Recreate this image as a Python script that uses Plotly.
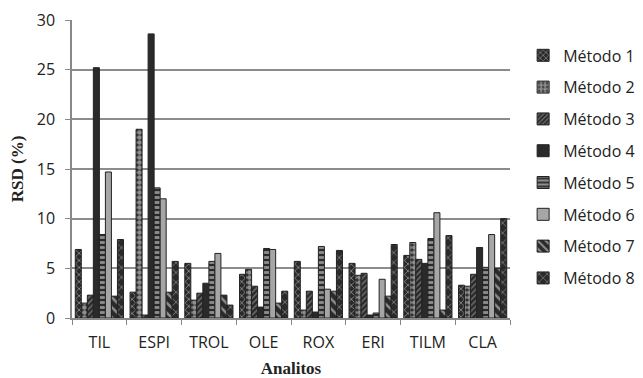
import plotly.graph_objects as go

categories = ["TIL", "ESPI", "TROL", "OLE", "ROX", "ERI", "TILM", "CLA"]
metodo_1 = [6.9, 2.6, 5.5, 4.4, 5.7, 5.5, 6.3, 3.3]
metodo_2 = [1.5, 19.0, 1.8, 4.9, 0.8, 4.3, 7.6, 3.2]
metodo_3 = [2.3, 0.3, 2.5, 3.2, 2.7, 4.5, 5.9, 4.4]
metodo_4 = [25.2, 28.6, 3.5, 1.1, 0.6, 0.3, 5.5, 7.1]
metodo_5 = [8.4, 13.1, 5.7, 7.0, 7.2, 0.5, 8.0, 5.1]
metodo_6 = [14.7, 12.0, 6.5, 6.9, 2.9, 3.9, 10.6, 8.4]
metodo_7 = [2.2, 2.6, 2.3, 1.5, 2.7, 2.2, 0.8, 5.0]
metodo_8 = [7.9, 5.7, 1.3, 2.7, 6.8, 7.4, 8.3, 10.0]
series_names = ["Método 1", "Método 2", "Método 3", "Método 4",
                "Método 5", "Método 6", "Método 7", "Método 8"]
series_values = [metodo_1, metodo_2, metodo_3, metodo_4,
                 metodo_5, metodo_6, metodo_7, metodo_8]
y_ticks = [0, 5, 10, 15, 20, 25, 30]

dark = "#2a2a2a"
light = "#f2f2f2"
styles = [
    dict(color=dark, pattern=dict(shape="x", fgcolor=light, bgcolor=dark, size=5, solidity=0.3)),
    dict(color=dark, pattern=dict(shape=".", fgcolor=light, bgcolor=dark, size=5, solidity=0.7)),
    dict(color=dark, pattern=dict(shape="/", fgcolor="#bdbdbd", bgcolor=dark, size=4, solidity=0.35)),
    dict(color=dark, pattern=dict(shape="")),
    dict(color=dark, pattern=dict(shape="-", fgcolor=light, bgcolor=dark, size=5, solidity=0.55)),
    dict(color="#a6a6a6", pattern=dict(shape="")),
    dict(color=dark, pattern=dict(shape="\\", fgcolor=light, bgcolor=dark, size=7, solidity=0.35)),
    dict(color=dark, pattern=dict(shape="x", fgcolor=light, bgcolor=dark, size=7, solidity=0.2)),
]

fig = go.Figure()
for i, (name, vals) in enumerate(zip(series_names, series_values)):
    st = styles[i]
    fig.add_trace(go.Bar(
        x=categories, y=vals, name=name, legendgroup=name,
        marker=dict(color=st["color"], pattern=st["pattern"],
                    line=dict(color="#222222", width=1)),
    ))

fig.update_layout(
    width=643, height=378,
    margin=dict(l=72, r=133, t=20, b=60, autoexpand=False),
    paper_bgcolor="white", plot_bgcolor="white",
    barmode="group", bargap=0.12, bargroupgap=0,
    font=dict(family="Open Sans", size=16, color="#222222"),
    legend=dict(x=1.03, y=0.507, xanchor="left", yanchor="middle",
                font=dict(family="Open Sans", size=16, color="#222222"),
                tracegroupgap=8, traceorder="grouped"),
    xaxis=dict(
        automargin=False,
        showline=True, linecolor="#888888", linewidth=1.5,
        ticks="outside", tickson="boundaries", ticklen=5, tickcolor="#888888",
        tickfont=dict(family="Open Sans", size=16), ticklabelstandoff=9,
        title=dict(text="<b>Analitos</b>", font=dict(family="Liberation Serif", size=17), standoff=12),
    ),
    yaxis=dict(
        automargin=False,
        range=[0, 30], tickvals=y_ticks,
        showgrid=True, gridcolor="#8c8c8c", gridwidth=1.5,
        showline=True, linecolor="#888888", linewidth=1.5,
        ticks="outside", ticklen=5, tickcolor="#888888",
        tickfont=dict(family="Open Sans", size=16), ticklabelstandoff=7,
        title=dict(text="<b>RSD (%)</b>", font=dict(family="Liberation Serif", size=17), standoff=9),
        zeroline=False,
    ),
)

fig.write_html("out.html", config={"displayModeBar": False},
               post_script="document.body.style.margin='0';document.body.style.overflow='hidden';")
